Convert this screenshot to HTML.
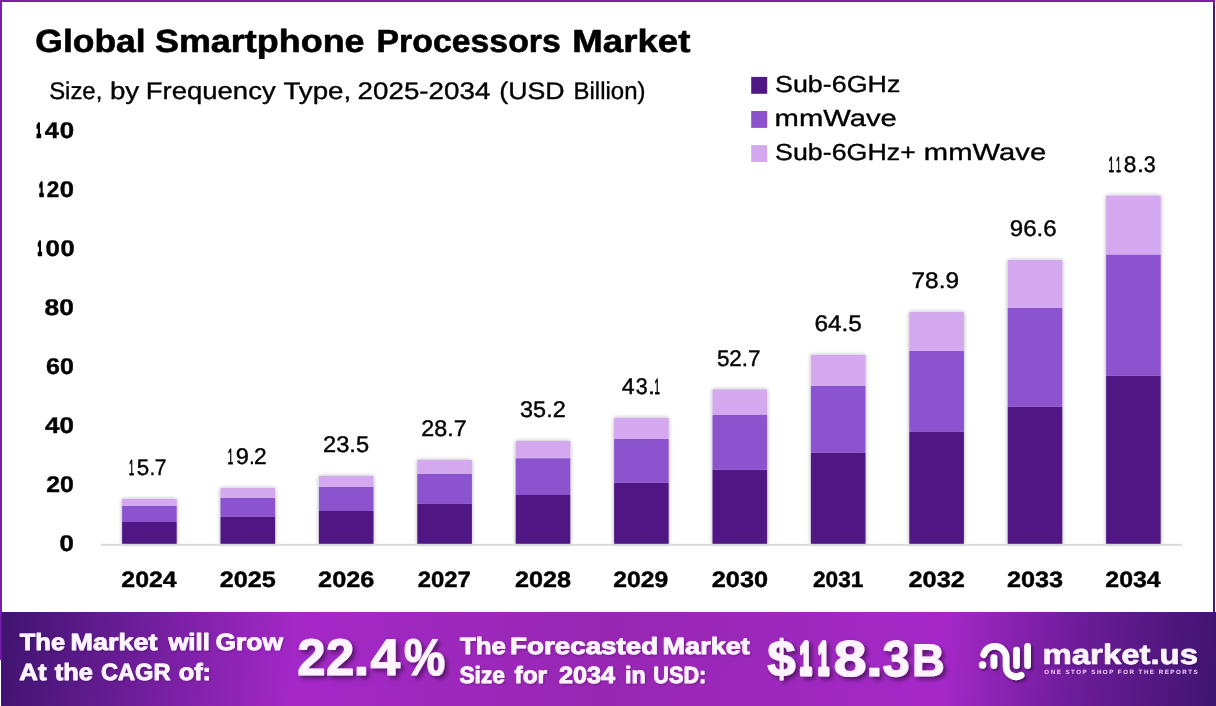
<!DOCTYPE html>
<html lang="en">
<head>
<meta charset="utf-8">
<title>Global Smartphone Processors Market</title>
<style>
html,body{margin:0;padding:0;background:#fff;}
body{width:1216px;height:706px;overflow:hidden;}
svg{display:block;}
svg text{font-family:'Liberation Sans', sans-serif;white-space:pre;text-rendering:geometricPrecision;}
</style>
</head>
<body>
<svg width="1216" height="706" viewBox="0 0 1216 706">
<defs>
<linearGradient id="fg" gradientUnits="userSpaceOnUse" x1="0" y1="612" x2="1216" y2="706">
<stop offset="0" stop-color="#3f1470"/>
<stop offset="0.245" stop-color="#a428c8"/>
<stop offset="0.50" stop-color="#9727b2"/>
<stop offset="0.775" stop-color="#a428c8"/>
<stop offset="0.88" stop-color="#6e1c9a"/>
<stop offset="1" stop-color="#3f1470"/>
</linearGradient>
<linearGradient id="rb" x1="0" y1="0" x2="0" y2="1">
<stop offset="0" stop-color="#7a1fa8"/>
<stop offset="0.012" stop-color="#4a1a7a"/>
<stop offset="1" stop-color="#4a1a7a"/>
</linearGradient>
<filter id="bs" x="-20%" y="-5%" width="140%" height="110%">
<feGaussianBlur in="SourceAlpha" stdDeviation="2"/>
<feOffset dx="0.3" dy="0"/>
<feComponentTransfer><feFuncA type="linear" slope="0.33"/></feComponentTransfer>
<feMerge><feMergeNode/><feMergeNode in="SourceGraphic"/></feMerge>
</filter>
<filter id="ts" x="-5%" y="-30%" width="110%" height="170%">
<feGaussianBlur in="SourceAlpha" stdDeviation="1.2"/>
<feOffset dx="0.8" dy="1.2"/>
<feComponentTransfer><feFuncA type="linear" slope="0.25"/></feComponentTransfer>
<feMerge><feMergeNode/><feMergeNode in="SourceGraphic"/></feMerge>
</filter>
<filter id="tsl" x="-10%" y="-20%" width="125%" height="150%">
<feGaussianBlur in="SourceAlpha" stdDeviation="1.6"/>
<feOffset dx="1.5" dy="2.2"/>
<feComponentTransfer><feFuncA type="linear" slope="0.45"/></feComponentTransfer>
<feMerge><feMergeNode/><feMergeNode in="SourceGraphic"/></feMerge>
</filter>
<filter id="tsb" x="-5%" y="-30%" width="112%" height="170%">
<feGaussianBlur in="SourceAlpha" stdDeviation="2"/>
<feOffset dx="3" dy="3"/>
<feComponentTransfer><feFuncA type="linear" slope="0.45"/></feComponentTransfer>
<feMerge><feMergeNode/><feMergeNode in="SourceGraphic"/></feMerge>
</filter>
</defs>
<rect x="0" y="0" width="1216" height="706" fill="#fff"/>
<rect x="0" y="0" width="1215" height="2" fill="#7a1fa8"/>
<rect x="0" y="0" width="2" height="612" fill="#7a1fa8"/>
<rect x="1213" y="0" width="2" height="612" fill="url(#rb)"/>
<g id="chart">
<g filter="url(#bs)"><rect x="122.1" y="522.0" width="54.6" height="22.0" fill="#4f1884"/><rect x="122.1" y="506.0" width="54.6" height="16.0" fill="#8c52ce"/><rect x="122.1" y="498.8" width="54.6" height="7.2" fill="#d3a8ef"/></g>
<g filter="url(#bs)"><rect x="220.5" y="516.9" width="54.6" height="27.1" fill="#4f1884"/><rect x="220.5" y="497.9" width="54.6" height="19.0" fill="#8c52ce"/><rect x="220.5" y="487.9" width="54.6" height="10.0" fill="#d3a8ef"/></g>
<g filter="url(#bs)"><rect x="318.9" y="511.0" width="54.6" height="33.0" fill="#4f1884"/><rect x="318.9" y="486.8" width="54.6" height="24.2" fill="#8c52ce"/><rect x="318.9" y="476.0" width="54.6" height="10.8" fill="#d3a8ef"/></g>
<g filter="url(#bs)"><rect x="417.3" y="503.9" width="54.6" height="40.1" fill="#4f1884"/><rect x="417.3" y="474.0" width="54.6" height="29.9" fill="#8c52ce"/><rect x="417.3" y="460.0" width="54.6" height="14.0" fill="#d3a8ef"/></g>
<g filter="url(#bs)"><rect x="515.7" y="495.0" width="54.6" height="49.0" fill="#4f1884"/><rect x="515.7" y="458.2" width="54.6" height="36.8" fill="#8c52ce"/><rect x="515.7" y="441.0" width="54.6" height="17.2" fill="#d3a8ef"/></g>
<g filter="url(#bs)"><rect x="614.1" y="482.6" width="54.6" height="61.4" fill="#4f1884"/><rect x="614.1" y="438.8" width="54.6" height="43.8" fill="#8c52ce"/><rect x="614.1" y="417.8" width="54.6" height="21.0" fill="#d3a8ef"/></g>
<g filter="url(#bs)"><rect x="712.5" y="469.7" width="54.6" height="74.3" fill="#4f1884"/><rect x="712.5" y="414.8" width="54.6" height="54.9" fill="#8c52ce"/><rect x="712.5" y="389.4" width="54.6" height="25.4" fill="#d3a8ef"/></g>
<g filter="url(#bs)"><rect x="810.9" y="452.8" width="54.6" height="91.2" fill="#4f1884"/><rect x="810.9" y="385.8" width="54.6" height="67.0" fill="#8c52ce"/><rect x="810.9" y="354.8" width="54.6" height="31.0" fill="#d3a8ef"/></g>
<g filter="url(#bs)"><rect x="909.3" y="431.9" width="54.6" height="112.1" fill="#4f1884"/><rect x="909.3" y="350.9" width="54.6" height="81.0" fill="#8c52ce"/><rect x="909.3" y="311.9" width="54.6" height="39.0" fill="#d3a8ef"/></g>
<g filter="url(#bs)"><rect x="1007.7" y="406.7" width="54.6" height="137.3" fill="#4f1884"/><rect x="1007.7" y="308.0" width="54.6" height="98.7" fill="#8c52ce"/><rect x="1007.7" y="259.9" width="54.6" height="48.1" fill="#d3a8ef"/></g>
<g filter="url(#bs)"><rect x="1106.1" y="375.8" width="54.6" height="168.2" fill="#4f1884"/><rect x="1106.1" y="254.5" width="54.6" height="121.3" fill="#8c52ce"/><rect x="1106.1" y="195.6" width="54.6" height="58.9" fill="#d3a8ef"/></g>
<rect x="100.8" y="543.8" width="1081.2" height="2" fill="#d9d9d9"/>
</g>
<rect x="751.2" y="76.9" width="16" height="16.9" fill="#4f1884"/>
<rect x="751.2" y="111.0" width="16" height="16.9" fill="#8c52ce"/>
<rect x="751.2" y="145.1" width="16" height="16.9" fill="#d3a8ef"/>
<rect x="0" y="612" width="1216" height="94" fill="url(#fg)"/>
<rect x="0" y="612" width="1.5" height="48" fill="#7a1fa8"/>
<rect x="0" y="660" width="1" height="46" fill="#fff"/>
<g id="logo" filter="url(#tsl)" fill="none" stroke="#fff" stroke-width="6.8" stroke-linecap="round" stroke-linejoin="round"><path d="M983.7 654.7 A11.4 11.4 0 0 1 1006.1 657.7 L1006.1 666.6 A10 10 0 0 0 1021.1 675.3"/><path d="M993.9 657.7 L993.9 665.5"/><path d="M1016.5 650.2 L1016.5 665.5"/><path d="M1027.6 646.3 L1027.6 665.5"/><circle cx="982.5" cy="665" r="3.7" fill="#fff" stroke="none"/></g>
<text id="title" y="52.20" font-size="32.04" font-weight="700" fill="#000" stroke="#000" stroke-width="0.6" stroke-linejoin="round"><tspan x="35.34" textLength="110.36" lengthAdjust="spacingAndGlyphs">Global</tspan> <tspan x="154.96" textLength="209.63" lengthAdjust="spacingAndGlyphs">Smartphone</tspan> <tspan x="376.57" textLength="184.22" lengthAdjust="spacingAndGlyphs">Processors</tspan> <tspan x="572.38" textLength="118.00" lengthAdjust="spacingAndGlyphs">Market</tspan></text>
<text id="sub" y="99.12" font-size="24.1" font-weight="400" fill="#000" stroke="#000" stroke-width="0.35" stroke-linejoin="round"><tspan x="49.14" textLength="53.17" lengthAdjust="spacingAndGlyphs">Size,</tspan> <tspan x="109.90" textLength="29.25" lengthAdjust="spacingAndGlyphs">by</tspan> <tspan x="145.73" textLength="129.95" lengthAdjust="spacingAndGlyphs">Frequency</tspan> <tspan x="283.44" textLength="67.79" lengthAdjust="spacingAndGlyphs">Type,</tspan> <tspan x="357.55" textLength="132.91" lengthAdjust="spacingAndGlyphs">2025-2034</tspan> <tspan x="499.28" textLength="65.34" lengthAdjust="spacingAndGlyphs">(USD</tspan> <tspan x="573.52" textLength="71.98" lengthAdjust="spacingAndGlyphs">Billion)</tspan></text>
<text id="y140" y="137.60" font-size="22.73" font-weight="700" fill="#000" stroke="#000" stroke-width="0.4" stroke-linejoin="round"><tspan x="36.59" y="136.50" textLength="4.43" lengthAdjust="spacingAndGlyphs" font-size="19.59" stroke-width="2.6">1</tspan><tspan x="44.80" y="137.60" textLength="14.05" lengthAdjust="spacingAndGlyphs">4</tspan><tspan x="59.66" y="137.60" textLength="14.37" lengthAdjust="spacingAndGlyphs">0</tspan></text>
<text id="y120" y="196.65" font-size="22.73" font-weight="700" fill="#000" stroke="#000" stroke-width="0.4" stroke-linejoin="round"><tspan x="39.30" y="195.55" textLength="4.31" lengthAdjust="spacingAndGlyphs" font-size="19.59" stroke-width="2.6">1</tspan><tspan x="46.73" y="196.65" textLength="12.50" lengthAdjust="spacingAndGlyphs">2</tspan><tspan x="59.77" y="196.65" textLength="14.25" lengthAdjust="spacingAndGlyphs">0</tspan></text>
<text id="y100" y="255.70" font-size="22.73" font-weight="700" fill="#000" stroke="#000" stroke-width="0.4" stroke-linejoin="round"><tspan x="37.63" y="254.60" textLength="4.08" lengthAdjust="spacingAndGlyphs" font-size="19.59" stroke-width="2.6">1</tspan><tspan x="45.46" y="255.70" textLength="14.37" lengthAdjust="spacingAndGlyphs">0</tspan><tspan x="60.48" y="255.70" textLength="14.13" lengthAdjust="spacingAndGlyphs">0</tspan></text>
<text id="y80" y="314.75" font-size="22.73" font-weight="700" fill="#000" stroke="#000" stroke-width="0.4" stroke-linejoin="round"><tspan x="44.60" textLength="29.31" lengthAdjust="spacingAndGlyphs">80</tspan></text>
<text id="y60" y="373.80" font-size="22.73" font-weight="700" fill="#000" stroke="#000" stroke-width="0.4" stroke-linejoin="round"><tspan x="46.06" textLength="27.80" lengthAdjust="spacingAndGlyphs">60</tspan></text>
<text id="y40" y="432.85" font-size="22.73" font-weight="700" fill="#000" stroke="#000" stroke-width="0.4" stroke-linejoin="round"><tspan x="44.99" textLength="28.91" lengthAdjust="spacingAndGlyphs">40</tspan></text>
<text id="y20" y="491.90" font-size="22.73" font-weight="700" fill="#000" stroke="#000" stroke-width="0.4" stroke-linejoin="round"><tspan x="46.15" textLength="27.61" lengthAdjust="spacingAndGlyphs">20</tspan></text>
<text id="y0" y="550.95" font-size="22.73" font-weight="700" fill="#000" stroke="#000" stroke-width="0.4" stroke-linejoin="round"><tspan x="59.56" textLength="14.37" lengthAdjust="spacingAndGlyphs">0</tspan></text>
<text id="yr2024" y="586.60" font-size="22.23" font-weight="700" fill="#000" stroke="#000" stroke-width="0.4" stroke-linejoin="round"><tspan x="121.34" textLength="55.38" lengthAdjust="spacingAndGlyphs">2024</tspan></text>
<text id="v2024" y="475.10" font-size="22.63" font-weight="400" fill="#000" stroke="#000" stroke-width="0.4" stroke-linejoin="round"><tspan x="128.96" y="474.85" textLength="5.04" lengthAdjust="spacingAndGlyphs" font-size="21.91" stroke-width="0.9">1</tspan><tspan x="136.79" y="475.10" textLength="12.44" lengthAdjust="spacingAndGlyphs">5</tspan><tspan x="149.74" y="475.10" textLength="5.31" lengthAdjust="spacingAndGlyphs">.</tspan><tspan x="154.80" y="475.10" textLength="11.79" lengthAdjust="spacingAndGlyphs">7</tspan></text>
<text id="yr2025" y="586.60" font-size="22.23" font-weight="700" fill="#000" stroke="#000" stroke-width="0.4" stroke-linejoin="round"><tspan x="219.73" textLength="56.07" lengthAdjust="spacingAndGlyphs">2025</tspan></text>
<text id="v2025" y="464.20" font-size="22.63" font-weight="400" fill="#000" stroke="#000" stroke-width="0.4" stroke-linejoin="round"><tspan x="227.80" y="463.95" textLength="5.43" lengthAdjust="spacingAndGlyphs" font-size="21.91" stroke-width="0.9">1</tspan><tspan x="235.83" y="464.20" textLength="13.15" lengthAdjust="spacingAndGlyphs">9</tspan><tspan x="249.24" y="464.20" textLength="5.31" lengthAdjust="spacingAndGlyphs">.</tspan><tspan x="254.14" y="464.20" textLength="12.63" lengthAdjust="spacingAndGlyphs">2</tspan></text>
<text id="yr2026" y="586.60" font-size="22.23" font-weight="700" fill="#000" stroke="#000" stroke-width="0.4" stroke-linejoin="round"><tspan x="318.13" textLength="56.28" lengthAdjust="spacingAndGlyphs">2026</tspan></text>
<text id="v2026" y="452.30" font-size="22.63" font-weight="400" fill="#000" stroke="#000" stroke-width="0.4" stroke-linejoin="round"><tspan x="323.09" textLength="46.01" lengthAdjust="spacingAndGlyphs">23.5</tspan></text>
<text id="yr2027" y="586.60" font-size="22.23" font-weight="700" fill="#000" stroke="#000" stroke-width="0.4" stroke-linejoin="round"><tspan x="417.68" textLength="53.17" lengthAdjust="spacingAndGlyphs">2027</tspan></text>
<text id="v2027" y="436.30" font-size="22.63" font-weight="400" fill="#000" stroke="#000" stroke-width="0.4" stroke-linejoin="round"><tspan x="421.30" textLength="45.35" lengthAdjust="spacingAndGlyphs">28.7</tspan></text>
<text id="yr2028" y="586.60" font-size="22.23" font-weight="700" fill="#000" stroke="#000" stroke-width="0.4" stroke-linejoin="round"><tspan x="514.93" textLength="56.11" lengthAdjust="spacingAndGlyphs">2028</tspan></text>
<text id="v2028" y="417.30" font-size="22.63" font-weight="400" fill="#000" stroke="#000" stroke-width="0.4" stroke-linejoin="round"><tspan x="520.11" textLength="45.55" lengthAdjust="spacingAndGlyphs">35.2</tspan></text>
<text id="yr2029" y="586.60" font-size="22.23" font-weight="700" fill="#000" stroke="#000" stroke-width="0.4" stroke-linejoin="round"><tspan x="613.35" textLength="55.03" lengthAdjust="spacingAndGlyphs">2029</tspan></text>
<text id="v2029" y="394.10" font-size="22.63" font-weight="400" fill="#000" stroke="#000" stroke-width="0.4" stroke-linejoin="round"><tspan x="621.86" y="394.10" textLength="12.95" lengthAdjust="spacingAndGlyphs">4</tspan><tspan x="635.70" y="394.10" textLength="11.91" lengthAdjust="spacingAndGlyphs">3</tspan><tspan x="647.96" y="394.10" textLength="7.08" lengthAdjust="spacingAndGlyphs">.</tspan><tspan x="654.62" y="393.85" textLength="5.30" lengthAdjust="spacingAndGlyphs" font-size="21.91" stroke-width="0.9">1</tspan></text>
<text id="yr2030" y="586.60" font-size="22.23" font-weight="700" fill="#000" stroke="#000" stroke-width="0.4" stroke-linejoin="round"><tspan x="711.73" textLength="56.35" lengthAdjust="spacingAndGlyphs">2030</tspan></text>
<text id="v2030" y="365.70" font-size="22.63" font-weight="400" fill="#000" stroke="#000" stroke-width="0.4" stroke-linejoin="round"><tspan x="716.89" textLength="43.73" lengthAdjust="spacingAndGlyphs">52.7</tspan></text>
<text id="yr2031" y="586.60" font-size="22.23" font-weight="700" fill="#000" stroke="#000" stroke-width="0.4" stroke-linejoin="round"><tspan x="813.02" textLength="50.41" lengthAdjust="spacingAndGlyphs">2031</tspan></text>
<text id="v2031" y="331.10" font-size="22.63" font-weight="400" fill="#000" stroke="#000" stroke-width="0.4" stroke-linejoin="round"><tspan x="814.50" textLength="47.43" lengthAdjust="spacingAndGlyphs">64.5</tspan></text>
<text id="yr2032" y="586.60" font-size="22.23" font-weight="700" fill="#000" stroke="#000" stroke-width="0.4" stroke-linejoin="round"><tspan x="908.53" textLength="56.28" lengthAdjust="spacingAndGlyphs">2032</tspan></text>
<text id="v2032" y="288.20" font-size="22.63" font-weight="400" fill="#000" stroke="#000" stroke-width="0.4" stroke-linejoin="round"><tspan x="911.53" textLength="47.53" lengthAdjust="spacingAndGlyphs">78.9</tspan></text>
<text id="yr2033" y="586.60" font-size="22.23" font-weight="700" fill="#000" stroke="#000" stroke-width="0.4" stroke-linejoin="round"><tspan x="1006.93" textLength="56.26" lengthAdjust="spacingAndGlyphs">2033</tspan></text>
<text id="v2033" y="236.20" font-size="22.63" font-weight="400" fill="#000" stroke="#000" stroke-width="0.4" stroke-linejoin="round"><tspan x="1009.81" textLength="46.80" lengthAdjust="spacingAndGlyphs">96.6</tspan></text>
<text id="yr2034" y="586.60" font-size="22.23" font-weight="700" fill="#000" stroke="#000" stroke-width="0.4" stroke-linejoin="round"><tspan x="1105.34" textLength="55.38" lengthAdjust="spacingAndGlyphs">2034</tspan></text>
<text id="v2034" y="171.90" font-size="22.63" font-weight="400" fill="#000" stroke="#000" stroke-width="0.4" stroke-linejoin="round"><tspan x="1108.39" y="171.65" textLength="5.55" lengthAdjust="spacingAndGlyphs" font-size="21.91" stroke-width="0.9">1</tspan><tspan x="1116.08" y="171.65" textLength="4.91" lengthAdjust="spacingAndGlyphs" font-size="21.91" stroke-width="0.9">1</tspan><tspan x="1123.85" y="171.90" textLength="12.62" lengthAdjust="spacingAndGlyphs">8</tspan><tspan x="1136.96" y="171.90" textLength="7.08" lengthAdjust="spacingAndGlyphs">.</tspan><tspan x="1143.80" y="171.90" textLength="11.91" lengthAdjust="spacingAndGlyphs">3</tspan></text>
<text id="lg1" y="91.62" font-size="23.2" font-weight="400" fill="#000" stroke="#000" stroke-width="0.35" stroke-linejoin="round"><tspan x="775.03" textLength="125.32" lengthAdjust="spacingAndGlyphs">Sub-6GHz</tspan></text>
<text id="lg2" y="125.83" font-size="23.2" font-weight="400" fill="#000" stroke="#000" stroke-width="0.35" stroke-linejoin="round"><tspan x="774.56" textLength="122.29" lengthAdjust="spacingAndGlyphs">mmWave</tspan></text>
<text id="lg3" y="160.02" font-size="23.2" font-weight="400" fill="#000" stroke="#000" stroke-width="0.35" stroke-linejoin="round"><tspan x="775.03" textLength="140.84" lengthAdjust="spacingAndGlyphs">Sub-6GHz+</tspan> <tspan x="923.86" textLength="122.29" lengthAdjust="spacingAndGlyphs">mmWave</tspan></text>
<text id="fa1" y="650.35" font-size="23.51" font-weight="700" fill="#fef4ff" stroke="#fef4ff" stroke-width="0.9" stroke-linejoin="round" filter="url(#ts)"><tspan x="19.84" textLength="45.21" lengthAdjust="spacingAndGlyphs">The</tspan> <tspan x="70.63" textLength="86.90" lengthAdjust="spacingAndGlyphs">Market</tspan> <tspan x="168.41" textLength="41.37" lengthAdjust="spacingAndGlyphs">will</tspan> <tspan x="215.58" textLength="67.36" lengthAdjust="spacingAndGlyphs">Grow</tspan></text>
<text id="fa2" y="679.95" font-size="23.51" font-weight="700" fill="#fef4ff" stroke="#fef4ff" stroke-width="0.9" stroke-linejoin="round" filter="url(#ts)"><tspan x="19.31" textLength="27.24" lengthAdjust="spacingAndGlyphs">At</tspan> <tspan x="54.83" textLength="38.07" lengthAdjust="spacingAndGlyphs">the</tspan> <tspan x="101.02" textLength="69.44" lengthAdjust="spacingAndGlyphs">CAGR</tspan> <tspan x="178.67" textLength="32.38" lengthAdjust="spacingAndGlyphs">of:</tspan></text>
<text id="cagr" y="674.50" font-size="51.59" font-weight="700" fill="#fef4ff" stroke="#fef4ff" stroke-width="1.2" stroke-linejoin="round" filter="url(#tsb)"><tspan x="297.24" textLength="28.30" lengthAdjust="spacingAndGlyphs">2</tspan><tspan x="326.04" textLength="28.30" lengthAdjust="spacingAndGlyphs">2</tspan><tspan x="353.52" textLength="15.84" lengthAdjust="spacingAndGlyphs">.</tspan><tspan x="370.59" textLength="29.71" lengthAdjust="spacingAndGlyphs">4</tspan><tspan x="403.92" textLength="41.24" lengthAdjust="spacingAndGlyphs">%</tspan></text>
<text id="fb1" y="653.95" font-size="23.51" font-weight="700" fill="#fef4ff" stroke="#fef4ff" stroke-width="0.9" stroke-linejoin="round" filter="url(#ts)"><tspan x="460.14" textLength="45.72" lengthAdjust="spacingAndGlyphs">The</tspan> <tspan x="510.08" textLength="148.10" lengthAdjust="spacingAndGlyphs">Forecasted</tspan> <tspan x="662.52" textLength="87.31" lengthAdjust="spacingAndGlyphs">Market</tspan></text>
<text id="fb2" y="683.25" font-size="23.51" font-weight="700" fill="#fef4ff" stroke="#fef4ff" stroke-width="0.9" stroke-linejoin="round" filter="url(#ts)"><tspan x="459.43" textLength="45.49" lengthAdjust="spacingAndGlyphs">Size</tspan> <tspan x="514.52" textLength="32.48" lengthAdjust="spacingAndGlyphs">for</tspan> <tspan x="558.98" textLength="56.07" lengthAdjust="spacingAndGlyphs">2034</tspan> <tspan x="625.02" textLength="20.72" lengthAdjust="spacingAndGlyphs">in</tspan> <tspan x="653.34" textLength="53.02" lengthAdjust="spacingAndGlyphs">USD:</tspan></text>
<text id="usd" y="675.50" font-size="50.89" font-weight="700" fill="#fef4ff" stroke="#fef4ff" stroke-width="1.2" stroke-linejoin="round" filter="url(#tsb)"><tspan x="767.17" y="675.50" textLength="28.50" lengthAdjust="spacingAndGlyphs">$</tspan><tspan x="799.86" y="673.60" textLength="11.84" lengthAdjust="spacingAndGlyphs" font-size="45.46" stroke-width="5.0">1</tspan><tspan x="818.07" y="673.60" textLength="10.88" lengthAdjust="spacingAndGlyphs" font-size="45.46" stroke-width="5.0">1</tspan><tspan x="833.58" y="675.50" textLength="33.12" lengthAdjust="spacingAndGlyphs">8</tspan><tspan x="865.97" y="675.50" textLength="16.83" lengthAdjust="spacingAndGlyphs">.</tspan><tspan x="882.57" y="675.50" textLength="27.25" lengthAdjust="spacingAndGlyphs">3</tspan><tspan x="911.96" y="675.50" textLength="32.66" lengthAdjust="spacingAndGlyphs" font-size="45.79">B</tspan></text>
<text id="brand" y="664.25" font-size="28.0" font-weight="700" fill="#fef4ff" stroke="#fef4ff" stroke-width="0.7" stroke-linejoin="round" filter="url(#ts)"><tspan x="1042.52" textLength="155.50" lengthAdjust="spacingAndGlyphs">market.us</tspan></text>
<text id="tag" y="674.30" font-size="6.2" font-weight="700" fill="#f3d3fb"><tspan x="1044.37" letter-spacing="1.493">ONE STOP SHOP FOR THE REPORTS</tspan></text>
</svg>
</body>
</html>
